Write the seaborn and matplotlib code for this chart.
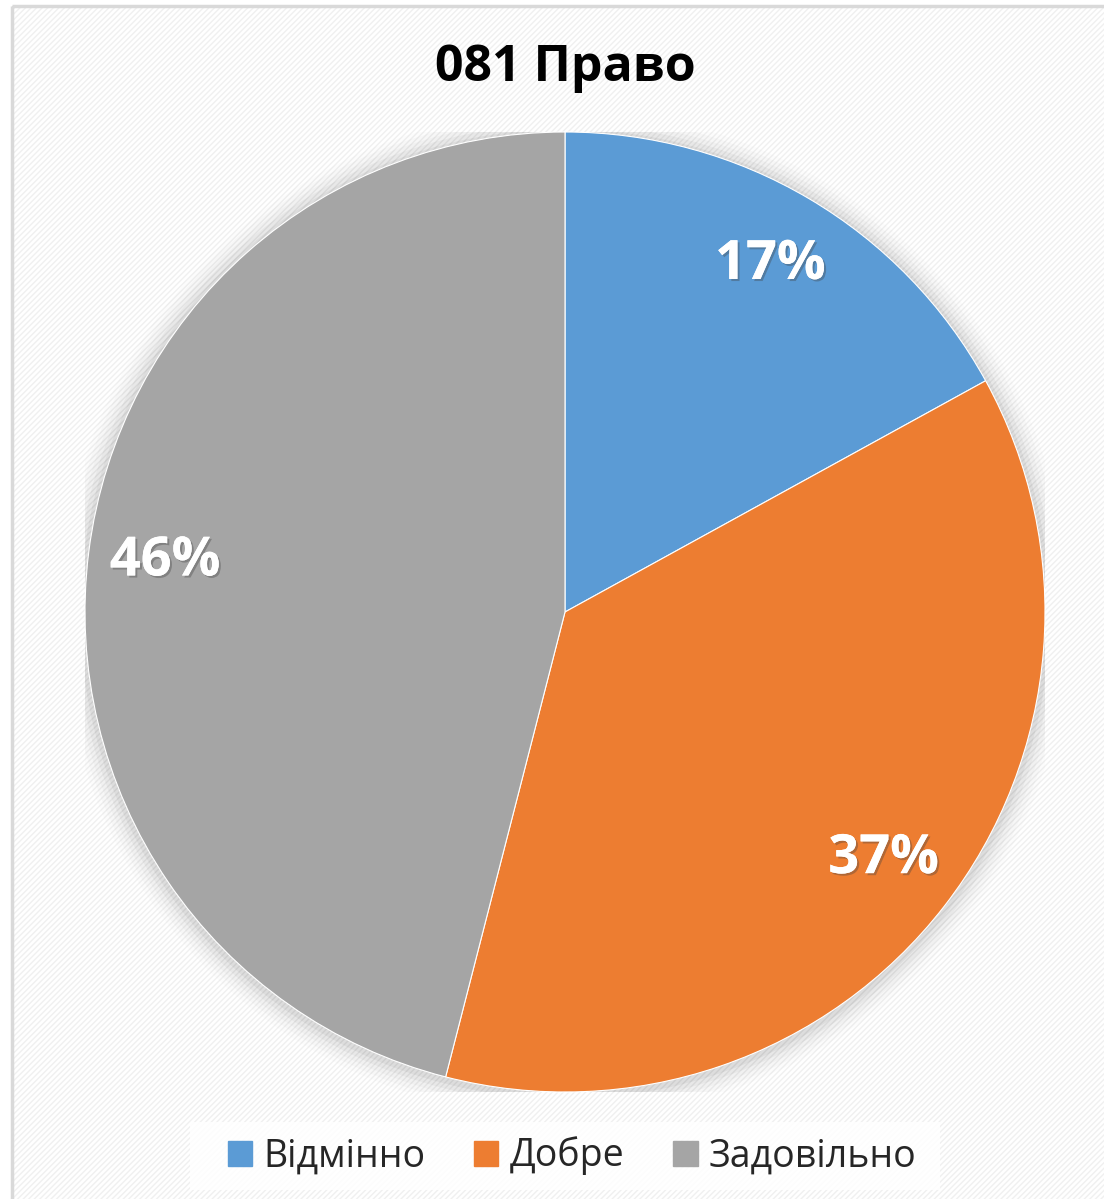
import matplotlib
matplotlib.use('Agg')
import matplotlib.pyplot as plt
import matplotlib.patches as mpatches
import matplotlib.patheffects as pe
import seaborn as sns

title = '081 Право'
categories = ['Відмінно', 'Добре', 'Задовільно']
shares = [17, 37, 46]
colors = ['#5b9bd5', '#ed7d31', '#a5a5a5']

sns.set_theme(style='white')
plt.rcParams['font.family'] = ['Open Sans', 'DejaVu Sans']

W, H = 1104, 1199
fig = plt.figure(figsize=(W / 100, H / 100), dpi=100)
fig.patch.set_facecolor('white')

# background with faint diagonal stripes and a light frame
bg = fig.add_axes([0, 0, 1, 1], zorder=-10)
bg.set_xlim(0, W)
bg.set_ylim(H, 0)
bg.axis('off')
bg.add_patch(mpatches.Rectangle((12, 6), W, H, facecolor='white',
                                edgecolor='#f0f0f0', hatch='//////', lw=0))
bg.add_patch(mpatches.Rectangle((12, 6), W, H, facecolor='none',
                                edgecolor='#d9d9d9', lw=2.5))
# legend band
bg.add_patch(mpatches.Rectangle((190, 1122), 750, 68, facecolor='white',
                                edgecolor='none', alpha=0.85))

cx, cy, R = 565, 612, 480
ax = fig.add_axes([(cx - R) / W, (H - cy - R) / H, 2 * R / W, 2 * R / H])

# soft shadow around the pie
for i, a in enumerate([0.045, 0.035, 0.025, 0.018, 0.012]):
    ax.add_patch(mpatches.Circle((0.0, -0.004), 1 + 0.01 * (i + 1),
                                 color='black', alpha=a, lw=0, zorder=0))

wedges, texts, autotexts = ax.pie(
    shares, colors=colors, startangle=90, counterclock=False,
    autopct='%d%%', pctdistance=0.84, radius=1,
    wedgeprops=dict(edgecolor='white', linewidth=0.8),
    textprops=dict(color='white', fontsize=39, fontweight='bold'))
for t in autotexts:
    t.set_path_effects([pe.withSimplePatchShadow(offset=(1.5, -1.5),
                                                 shadow_rgbFace='#404040', alpha=0.35),
                        pe.Normal()])
ax.set_xlim(-1, 1)
ax.set_ylim(-1, 1)
ax.set_aspect('equal')
ax.axis('off')

fig.text(cx / W, 1 - 68 / H, title, ha='center', va='center',
         fontsize=36, fontweight='bold', color='black')

handles = [mpatches.Patch(color=c, label=l) for c, l in zip(colors, categories)]
fig.legend(handles=handles, loc='center', bbox_to_anchor=(572 / W, 1 - 1156 / H),
           ncol=3, frameon=False, fontsize=27, handlelength=0.65, handleheight=0.65,
           handletextpad=0.3, columnspacing=1.3)

fig.savefig('out.png', dpi=100)
